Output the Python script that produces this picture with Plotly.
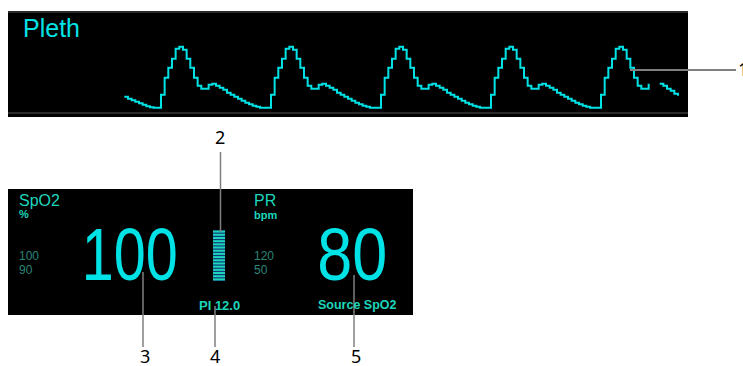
import plotly.graph_objects as go

# ---- data ----
# pleth samples (arbitrary amplitude units), one sample every 25 ms
lead_in = [11, 9, 7.5, 6, 4.5, 3, 1.5, 0.5, 0]
beat = [0, 13, 30, 40, 49, 59, 61, 58, 49, 40, 30, 22, 19, 19, 23,
        24, 22, 20, 18, 15, 13, 11, 9, 7, 5, 3.5, 2, 1, 0, 0]
last_beat = [0, 13, 30, 40, 49, 59, 61, 58, 49, 40, 30, 22, 19, 19, 24,
             None, None, 24, 22, 19, 17, 14, 12]
pleth = lead_in + beat * 4 + last_beat
sample_dt = 0.025

spo2_value = 100
spo2_limits = [100, 90]
pr_value = 80
pr_limits = [120, 50]
pi_value = 12.0
pi_segments = 16
callouts = ["1", "2", "3", "4", "5"]

W, H = 743, 366
CYAN = "#00e3e6"
LABEL = "#1cd6bc"
LIMIT = "#2b8579"
GREY = "#7f7f7f"


def px(x):
    return x / W


def py(y):
    return 1 - y / H


t = [i * sample_dt for i in range(len(pleth))]

# pixel geometry of the pleth strip: first sample at x=124.3, 3.67 px per sample
x0_px, px_per_s = 124.3, 3.667 / sample_dt
xr = [(8 - x0_px) / px_per_s, (688 - x0_px) / px_per_s]
yr = [107.7 - 117, 107.7 - 11]

fig = go.Figure()

fig.add_trace(go.Scatter(
    x=t, y=pleth, mode="lines", line=dict(color=CYAN, width=2, shape="hv"),
    connectgaps=False, hoverinfo="skip", xaxis="x", yaxis="y"))

fig.add_trace(go.Scatter(
    x=[0] * pi_segments, y=list(range(1, pi_segments + 1)), mode="markers",
    marker=dict(symbol="line-ew", size=12, line=dict(color=LABEL, width=2)),
    hoverinfo="skip", xaxis="x2", yaxis="y2"))

shapes = [
    # pleth panel
    dict(type="rect", xref="paper", yref="paper", x0=px(8), x1=px(688), y0=py(117), y1=py(11),
         fillcolor="black", line_width=0, layer="below"),
    dict(type="line", xref="paper", yref="paper", x0=px(8), x1=px(688), y0=py(12), y1=py(12),
         line=dict(color="#3a3a3a", width=1.5)),
    dict(type="line", xref="paper", yref="paper", x0=px(8), x1=px(688), y0=py(113), y1=py(113),
         line=dict(color="#3a3a3a", width=1.5)),
    # numeric panel
    dict(type="rect", xref="paper", yref="paper", x0=px(8), x1=px(413), y0=py(315), y1=py(189),
         fillcolor="black", line_width=0, layer="below"),
    # PI bar backing
    dict(type="rect", xref="paper", yref="paper", x0=px(213), x1=px(225), y0=py(281), y1=py(230),
         fillcolor="#123a78", line_width=0, layer="below"),
    # callout lines
    dict(type="line", xref="paper", yref="paper", x0=px(630), x1=px(736), y0=py(70), y1=py(70),
         line=dict(color=GREY, width=2)),
    dict(type="line", xref="paper", yref="paper", x0=px(220.5), x1=px(220.5), y0=py(152), y1=py(232),
         line=dict(color=GREY, width=1.5)),
    dict(type="line", xref="paper", yref="paper", x0=px(143), x1=px(143), y0=py(272), y1=py(347),
         line=dict(color=GREY, width=1.5)),
    dict(type="line", xref="paper", yref="paper", x0=px(215), x1=px(215), y0=py(306), y1=py(347),
         line=dict(color=GREY, width=1.5)),
    dict(type="line", xref="paper", yref="paper", x0=px(354), x1=px(354), y0=py(275), y1=py(347),
         line=dict(color=GREY, width=1.5)),
]

SANS = "Liberation Sans, Arial, sans-serif"
CALL = "Noto Sans, Open Sans, sans-serif"
BIG = 74


def txt(x, y, s, size, color, family=SANS, xanchor="left", bold=False):
    return dict(x=px(x), y=py(y), xref="paper", yref="paper", text=f"<b>{s}</b>" if bold else s,
                showarrow=False, xanchor=xanchor, yanchor="middle",
                font=dict(family=family, size=size, color=color))


annotations = [
    txt(21, 28, "Pleth", 25, CYAN),
    txt(17, 200, "SpO2", 16, LABEL),
    txt(17, 214, "%", 11, LABEL, bold=True),
    txt(17, 256, str(spo2_limits[0]), 12, LIMIT),
    txt(17, 270, str(spo2_limits[1]), 12, LIMIT),
    txt(129, 254, str(spo2_value), BIG, CYAN, xanchor="center"),
    txt(252, 200, "PR", 16, LABEL),
    txt(252, 215, "bpm", 11, LABEL, bold=True),
    txt(252, 256, str(pr_limits[0]), 12, LIMIT),
    txt(252, 270, str(pr_limits[1]), 12, LIMIT),
    txt(352, 254, str(pr_value), BIG, CYAN, xanchor="center"),
    txt(197, 305, f"PI {pi_value:.1f}", 13, LABEL, bold=True),
    txt(316, 305, "Source SpO2", 12.5, LABEL, bold=True),
    txt(736, 69, callouts[0], 18, "black", family=CALL),
    txt(220.5, 137, callouts[1], 18, "black", family=CALL, xanchor="center"),
    txt(144.5, 356, callouts[2], 18, "black", family=CALL, xanchor="center"),
    txt(215.5, 356, callouts[3], 18, "black", family=CALL, xanchor="center"),
    txt(356, 356, callouts[4], 18, "black", family=CALL, xanchor="center"),
]

hidden = dict(visible=False, fixedrange=True)
fig.update_layout(
    width=W, height=H, margin=dict(l=0, r=0, t=0, b=0),
    paper_bgcolor="white", plot_bgcolor="rgba(0,0,0,0)", showlegend=False,
    xaxis=dict(domain=[px(8), px(688)], range=xr, **hidden),
    yaxis=dict(domain=[py(117), py(11)], range=yr, **hidden),
    xaxis2=dict(domain=[px(213), px(225)], range=[-0.5, 0.5], anchor="y2", **hidden),
    yaxis2=dict(domain=[py(281), py(230)], range=[0.5, pi_segments + 0.5], anchor="x2", **hidden),
    shapes=shapes, annotations=annotations,
)

# drop the page margin and squeeze the big readouts to the monitor's narrow digits
post = """
document.body.style.margin = '0';
document.querySelectorAll('text.annotation-text').forEach(function (el) {
  if (parseFloat(el.style.fontSize) !== %d) return;
  var w = {'%s': 96, '%s': 70}[el.textContent];
  if (w) { el.setAttribute('textLength', w); el.setAttribute('lengthAdjust', 'spacingAndGlyphs'); }
});
""" % (BIG, spo2_value, pr_value)

fig.write_html("out.html", post_script=post, config={"displayModeBar": False})
